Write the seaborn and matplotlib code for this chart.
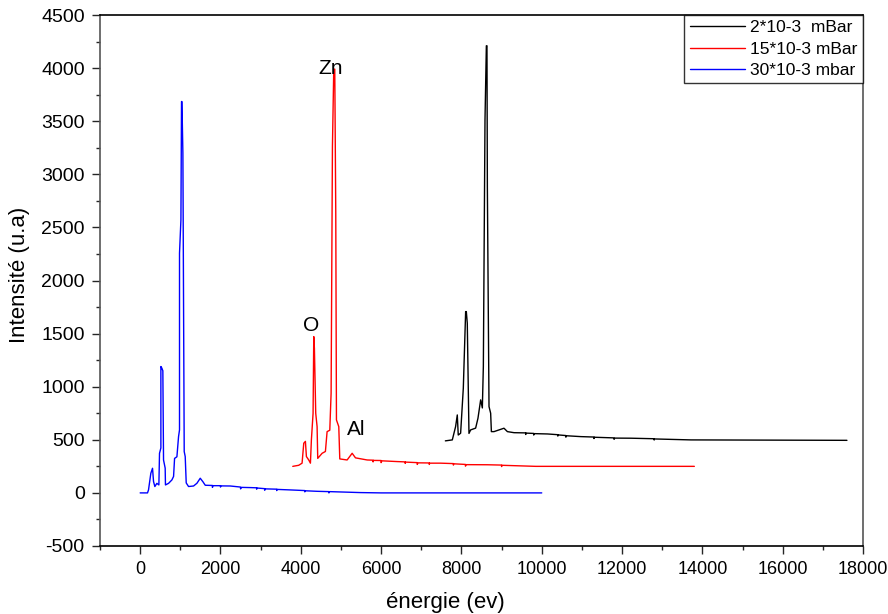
import numpy as np
import pandas as pd
import matplotlib
matplotlib.use("Agg")
import matplotlib.pyplot as plt
import seaborn as sns
from matplotlib.ticker import MultipleLocator

# spectre 30*10-3 mbar (bleu)
e_30 = [0, 183, 208, 266, 308, 333, 366, 416, 466, 482, 516, 516, 540, 565, 582,
        623, 630, 707, 790, 832, 857, 915, 956, 980, 980, 1015, 1030, 1040, 1064,
        1097, 1122, 1147, 1205, 1330, 1414, 1496, 1563, 1621, 1800, 1800, 1810,
        2000, 2000, 2010, 2244, 2500, 2500, 2520, 2743, 2900, 2900, 2910, 3100,
        3100, 3120, 3400, 3400, 3410, 3740, 4100, 4100, 4110, 4406, 4700, 4700,
        4720, 5486, 6000, 10000]
i_30 = [0, 0, 28, 185, 232, 107, 60, 90, 75, 373, 423, 1190, 1175, 1150, 310,
        233, 75, 90, 122, 155, 325, 340, 530, 593, 2257, 2570, 3685, 3685, 3199,
        389, 342, 94, 60, 65, 91, 138, 105, 72, 70, 52, 68, 68, 55, 66, 65, 55,
        38, 52, 50, 48, 35, 46, 40, 25, 38, 35, 22, 33, 28, 22, 10, 20, 15, 12,
        0, 12, 3, 0, 0]

# spectre 15*10-3 mBar (rouge)
e_15 = [3800, 3948, 4032, 4074, 4115, 4140, 4198, 4240, 4264, 4306, 4323, 4339,
        4372, 4406, 4422, 4531, 4613, 4655, 4722, 4755, 4788, 4821, 4846, 4871,
        4888, 4946, 4971, 5154, 5279, 5362, 5653, 5800, 5800, 5810, 6000, 6000,
        6020, 6401, 6600, 6600, 6610, 6900, 6900, 6920, 7200, 7200, 7210, 7481,
        7800, 7800, 7810, 8100, 8100, 8120, 8646, 9000, 9000, 9010, 9850, 13800]
i_15 = [250, 260, 280, 468, 485, 342, 310, 280, 500, 750, 1472, 1362, 750, 624,
        325, 373, 390, 577, 590, 939, 3261, 3990, 3990, 2634, 687, 624, 320, 310,
        373, 330, 310, 308, 292, 306, 305, 285, 302, 295, 292, 278, 290, 285, 268,
        283, 282, 268, 280, 280, 276, 262, 274, 268, 252, 266, 265, 262, 248, 260,
        250, 250]

# spectre 2*10-3 mBar (noir)
e_2 = [7600, 7773, 7855, 7897, 7921, 7980, 8047, 8105, 8122, 8146, 8188, 8229,
       8354, 8412, 8479, 8521, 8546, 8587, 8621, 8636, 8646, 8687, 8728, 8746,
       8811, 9060, 9145, 9310, 9600, 9600, 9610, 9800, 9800, 9820, 10142, 10400,
       10400, 10410, 10600, 10600, 10620, 10973, 11300, 11300, 11310, 11800,
       11800, 11820, 12219, 12800, 12800, 12810, 13716, 17600]
i_2 = [490, 499, 624, 734, 545, 562, 986, 1707, 1707, 1598, 560, 593, 610, 703,
       876, 800, 1190, 3512, 4210, 4210, 2884, 813, 750, 577, 577, 609, 577, 567,
       565, 550, 563, 560, 545, 558, 555, 548, 535, 546, 540, 525, 538, 530, 526,
       512, 524, 518, 505, 516, 515, 510, 498, 508, 499, 495]

labels = ["2*10-3  mBar", "15*10-3 mBar", "30*10-3 mbar"]
colors = ["black", "red", "blue"]

sns.set_style("ticks")
plt.rcParams["font.family"] = ["Liberation Sans", "DejaVu Sans"]
plt.rcParams["axes.unicode_minus"] = False
plt.rcParams["text.color"] = "black"

fig = plt.figure(figsize=(8.88, 6.14), dpi=100)
ax = fig.add_axes([100 / 888, 68 / 614, 763 / 888, 531 / 614])

for e, i, lab, c in zip([e_2, e_15, e_30], [i_2, i_15, i_30], labels, colors):
    df = pd.DataFrame({"energie": e, "intensite": i})
    sns.lineplot(data=df, x="energie", y="intensite", estimator=None, sort=False,
                 color=c, lw=1.0, label=lab, ax=ax)

ax.text(4740, 4000, "Zn", fontsize=15, ha="center", va="center", color="black")
ax.text(4264, 1572, "O", fontsize=15, ha="center", va="center", color="black")
ax.text(5390, 593, "Al", fontsize=15, ha="center", va="center", color="black")

ax.set_xlim(-1000, 18000)
ax.set_ylim(-500, 4500)
ax.xaxis.set_major_locator(MultipleLocator(2000))
ax.xaxis.set_minor_locator(MultipleLocator(1000))
ax.yaxis.set_major_locator(MultipleLocator(500))
ax.yaxis.set_minor_locator(MultipleLocator(250))
ax.tick_params(which="major", direction="out", length=6, width=1,
               labelsize=13, labelcolor="black", pad=5)
ax.tick_params(axis="y", labelsize=14)
ax.tick_params(which="minor", direction="out", length=3, width=1)

for side in ["top", "right", "bottom", "left"]:
    ax.spines[side].set_visible(True)
    ax.spines[side].set_linewidth(1.2)
    ax.spines[side].set_color("black")
ax.spines["left"].set_color("#555555")
ax.spines["right"].set_color("#555555")

ax.set_xlabel("énergie (ev)", fontsize=16, color="black")
ax.set_ylabel("Intensité (u.a)", fontsize=16, color="black")
ax.xaxis.set_label_coords(0.452, -0.087)
ax.yaxis.set_label_coords(-0.092, 0.51)

leg = ax.legend(loc="upper right", fontsize=12.5, frameon=True, fancybox=False,
                borderaxespad=0, handlelength=3.2, labelspacing=0.35,
                borderpad=0.3, handletextpad=0.3)
leg.get_frame().set_edgecolor("black")
leg.get_frame().set_linewidth(1.0)
for t in leg.get_texts():
    t.set_color("black")

fig.savefig("out.png", dpi=100)
